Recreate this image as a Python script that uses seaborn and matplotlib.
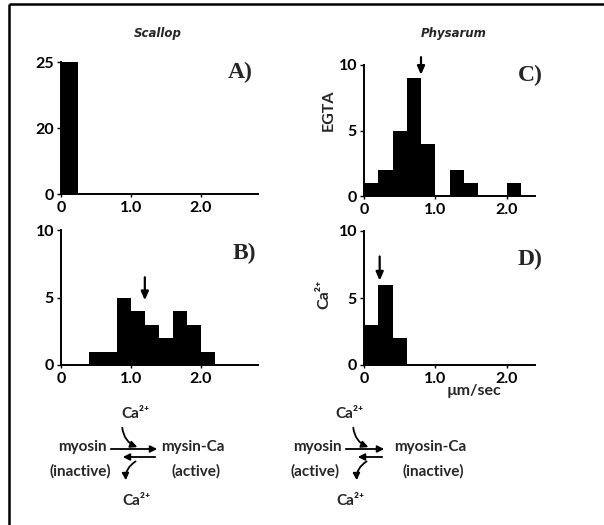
import numpy as np
import pandas as pd
import matplotlib
matplotlib.use("Agg")
import matplotlib.pyplot as plt
import seaborn as sns
from matplotlib.patches import FancyArrowPatch

# ---------------- data ----------------
bins_a = [0.0, 0.25]
counts_a = [25]

bins_b = [0.4, 0.6, 0.8, 1.0, 1.2, 1.4, 1.6, 1.8, 2.0, 2.2]
counts_b = [1, 1, 5, 4, 3, 2, 4, 3, 1]

bins_c = [0.0, 0.2, 0.4, 0.6, 0.8, 1.0, 1.2, 1.4, 1.6, 1.8, 2.0, 2.2]
counts_c = [1, 2, 5, 9, 4, 0, 2, 1, 0, 0, 1]

bins_d = [0.0, 0.2, 0.4, 0.6]
counts_d = [3, 6, 2]

arrow_b = 1.2
arrow_c = 0.8
arrow_d = 0.22

x_ticks = [0, 1, 2]
x_ticklabels = ["0", "1.0", "2.0"]

sns.set_style("ticks")
plt.rcParams["font.family"] = ["Lato", "DejaVu Sans"]
plt.rcParams["mathtext.default"] = "regular"

W, H = 604, 525
fig = plt.figure(figsize=(W / 100, H / 100), dpi=100)


def px_axes(l, r, b, t):
    return fig.add_axes([l / W, 1 - b / H, (r - l) / W, (b - t) / H])


ax_a = px_axes(61, 258, 194, 62)
ax_b = px_axes(61, 258, 365, 230)
ax_c = px_axes(364, 535, 196, 65)
ax_d = px_axes(364, 535, 365, 231)


def hist(ax, edges, counts):
    e = list(edges)
    centers = [(e[i] + e[i + 1]) / 2 for i in range(len(e) - 1)]
    df = pd.DataFrame({"speed": centers, "n": [float(c) for c in counts]})
    sns.histplot(data=df, x="speed", weights="n", bins=e, color="black",
                 alpha=1, edgecolor="black", linewidth=0, ax=ax)


def fwd(y):
    y = np.asarray(y, dtype=float)
    return np.where(y <= 20, y / 20.0, 1 + (y - 20) / 5.0)


def inv(t):
    t = np.asarray(t, dtype=float)
    return np.where(t <= 1, t * 20.0, 20 + (t - 1) * 5.0)


hist(ax_a, bins_a, counts_a)
hist(ax_b, bins_b, counts_b)
hist(ax_c, bins_c, counts_c)
hist(ax_d, bins_d, counts_d)
ax_a.set_yscale("function", functions=(fwd, inv))

for ax, xmax in [(ax_a, 2.82), (ax_b, 2.82), (ax_c, 2.4), (ax_d, 2.4)]:
    ax.set_xlim(0, xmax)
    ax.set_xticks(x_ticks)
    ax.set_xticklabels(x_ticklabels)
    ax.set_xlabel("")
    ax.set_ylabel("")
    for s in ["top", "right"]:
        ax.spines[s].set_visible(False)
    for s in ["left", "bottom"]:
        ax.spines[s].set_linewidth(1.4)
        ax.spines[s].set_color("black")
    ax.tick_params(axis="both", labelsize=11.5, width=1.0, length=3, pad=2,
                   colors="black")
    ax.tick_params(axis="x", length=2, pad=3)
    ax.set_facecolor("white")

ax_a.set_ylim(0, 25)
ax_a.set_yticks([0, 20, 25])
ax_a.set_yticklabels(["0", "20", "25"])
ax_a.yaxis.set_minor_locator(matplotlib.ticker.NullLocator())
for ax in (ax_b, ax_c, ax_d):
    ax.set_ylim(0, 10)
    ax.set_yticks([0, 5, 10])
    ax.set_yticklabels(["0", "5", "10"])
for ax in (ax_a, ax_b, ax_c, ax_d):
    for lab in ax.get_xticklabels() + ax.get_yticklabels():
        lab.set_fontweight("bold")

# arrows marking means
arrow_kw = dict(arrowstyle="-|>,head_length=0.5,head_width=0.22",
                color="black", lw=1.6, shrinkA=0, shrinkB=0)
ax_b.annotate("", xy=(arrow_b, 4.8), xytext=(arrow_b, 6.5), arrowprops=arrow_kw)
ax_c.annotate("", xy=(arrow_c, 9.25), xytext=(arrow_c, 10.6), arrowprops=arrow_kw,
              annotation_clip=False)
ax_d.annotate("", xy=(arrow_d, 6.3), xytext=(arrow_d, 8.1), arrowprops=arrow_kw)

# panel letters
for lab, (x, y) in [("A)", (240, 72)), ("B)", (244, 253)),
                    ("C)", (530, 75)), ("D)", (530, 259))]:
    fig.text(x / W, 1 - y / H, lab, ha="center", va="center",
             fontsize=17, fontweight="bold", family="Liberation Serif")

# titles and labels
fig.text(158 / W, 1 - 33 / H, "Scallop", ha="center", va="center",
         fontsize=8.5, fontstyle="oblique", fontweight="bold",
         family="DejaVu Sans")
fig.text(454 / W, 1 - 33 / H, "Physarum", ha="center", va="center",
         fontsize=8.5, fontstyle="oblique", fontweight="bold",
         family="DejaVu Sans")
fig.text(329 / W, 1 - 110 / H, "EGTA", ha="center", va="center", rotation=90,
         fontsize=11.5, fontweight="bold")
fig.text(324 / W, 1 - 294 / H, "Ca²⁺", ha="center", va="center",
         rotation=90, fontsize=11.5, fontweight="bold")
fig.text(474 / W, 1 - 391 / H, "µm/sec", ha="center", va="center",
         fontsize=11.5, fontweight="bold")

# overlay for frame and reaction schemes
ov = fig.add_axes([0, 0, 1, 1], zorder=-1)
ov.set_xlim(0, W)
ov.set_ylim(H, 0)
ov.axis("off")
ov.plot([9, 9], [525, 4], color="black", lw=1.8, solid_capstyle="butt")
ov.plot([9, 604], [4, 4], color="black", lw=1.8, solid_capstyle="butt")

txt_kw = dict(ha="center", va="center", fontsize=11, fontweight="bold")


def scheme(cx_ca, xl, xr, left_top, left_bot, right_top, right_bot, a0, a1):
    ov.text(cx_ca, 414, "Ca²⁺", **txt_kw)
    ov.text(cx_ca + 1, 501, "Ca²⁺", **txt_kw)
    ov.text(xl, 447, left_top, **txt_kw)
    ov.text(xl - 2, 471, left_bot, **txt_kw)
    ov.text(xr, 447, right_top, **txt_kw)
    ov.text(xr + 3, 471, right_bot, **txt_kw)
    hk = dict(color="black", lw=1.3, mutation_scale=10)
    ov.add_patch(FancyArrowPatch((a0, 449), (a1, 449), arrowstyle="-|>", **hk))
    ov.add_patch(FancyArrowPatch((a1 - 2, 457), (a0 + 12, 457), arrowstyle="-|>", **hk))
    mid = (a0 + a1) / 2
    ov.add_patch(FancyArrowPatch((mid - 12, 425), (mid + 6, 448),
                                 connectionstyle="arc3,rad=0.35",
                                 arrowstyle="-|>", **hk))
    ov.add_patch(FancyArrowPatch((mid + 4, 460), (mid - 8, 483),
                                 connectionstyle="arc3,rad=0.35",
                                 arrowstyle="-|>", **hk))


scheme(135, 82, 193, "myosin", "(inactive)", "mysin-Ca", "(active)", 108, 160)
scheme(349, 317, 430, "myosin", "(active)", "myosin-Ca", "(inactive)", 343, 387)

fig.savefig("out.png", dpi=100, facecolor="white")
